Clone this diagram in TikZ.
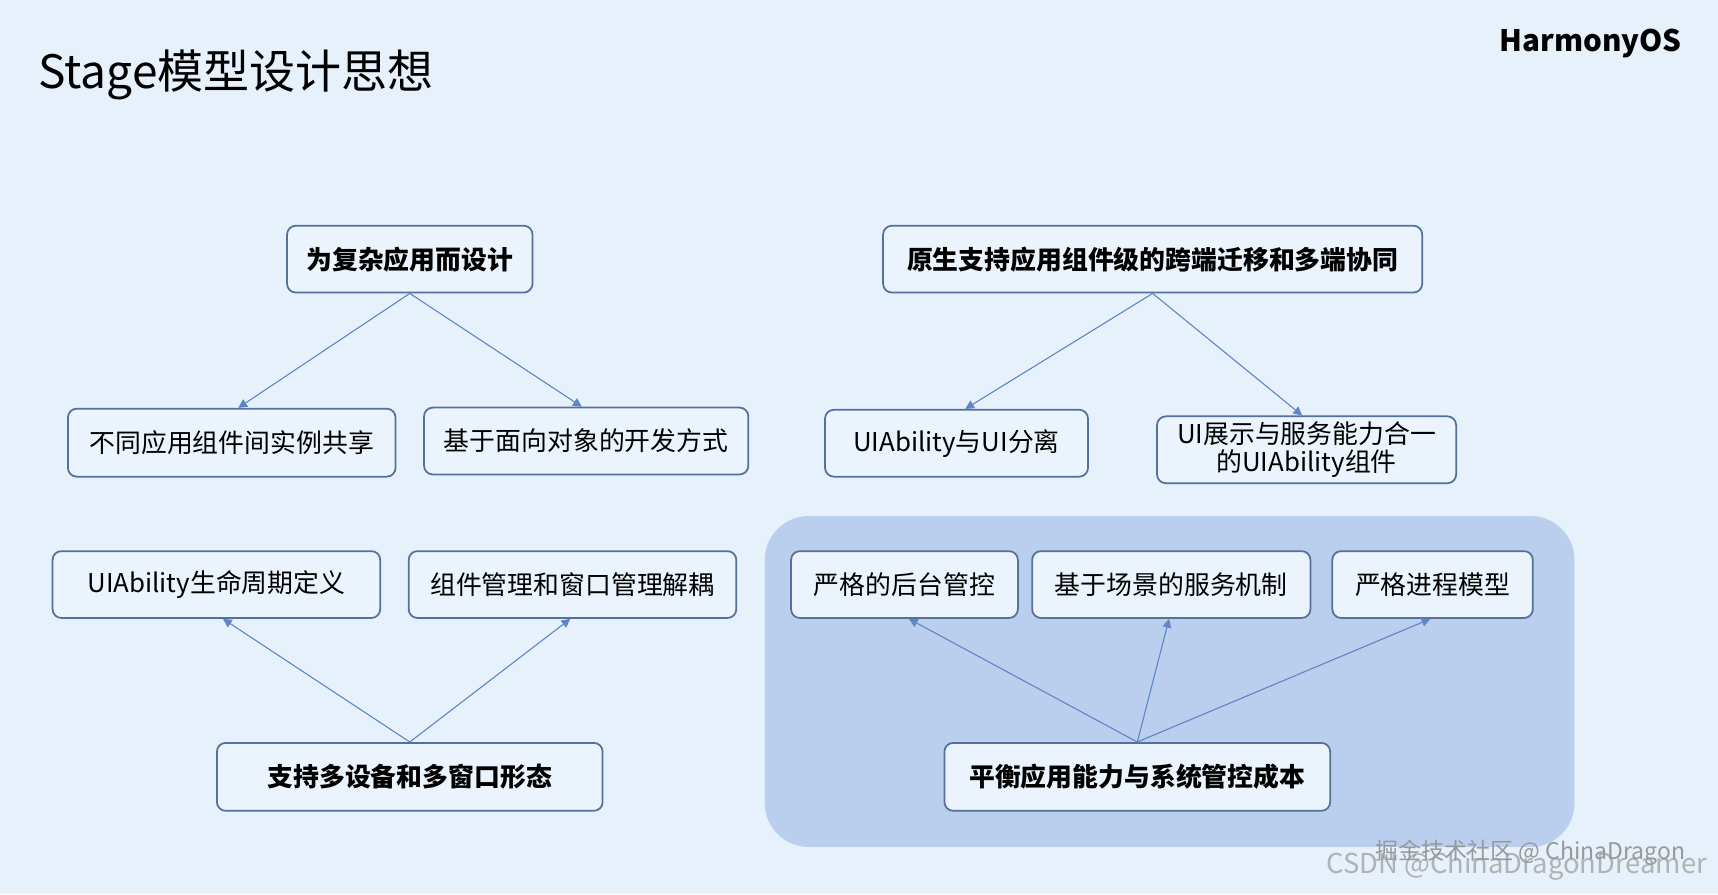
\documentclass[tikz,border=0pt]{standalone}
\usepackage{fontspec}
\setmainfont{Noto Sans CJK SC}
\usetikzlibrary{arrows.meta}
\definecolor{bg}{HTML}{E6F1FC}
\definecolor{boxfill}{HTML}{EBF4FD}
\definecolor{boxline}{HTML}{55709A}
\definecolor{region}{HTML}{BACEEE}
\definecolor{arr}{HTML}{5F85C6}
\tikzset{
 box/.style={draw=boxline,line width=0.8pt,fill=boxfill,rounded corners=4pt,font=\fontsize{11.8}{13}\selectfont,text=black,align=center,inner sep=0pt},
 bbox/.style={box,font=\fontsize{11.8}{13}\selectfont\bfseries},
 link/.style={draw=arr,line width=0.5pt,-{Triangle[length=4pt,width=4pt]}}
}
\begin{document}
\begin{tikzpicture}[x=0.5pt,y=-0.5pt]
\fill[bg] (0,0) rectangle (1568,816);
\useasboundingbox (0,0) rectangle (1568,816);
\node[anchor=west,font=\fontsize{21}{24}\selectfont] (title) at (28,68) {Stage模型设计思想};
\node[anchor=east,font=\fontsize{13.5}{15}\selectfont\bfseries] (logo) at (1542,40) {HarmonyOS};
\fill[region,rounded corners=20pt] (698,471) rectangle (1437,773);
\newcommand\bx[6]{\node[#1,minimum width={(#4-#2)*0.5pt},minimum height={(#5-#3)*0.5pt}] (#6) at ({(#2+#4)/2},{(#3+#5)/2})}
\bx{bbox}{262}{206}{486}{267}{A} {为复杂应用而设计};
\bx{bbox}{806}{206}{1298}{267}{B} {原生支持应用组件级的跨端迁移和多端协同};
\bx{box}{62}{373}{361}{435}{C} {不同应用组件间实例共享};
\bx{box}{387}{372}{683}{433}{D} {基于面向对象的开发方式};
\bx{box}{753}{374}{993}{435}{E} {UIAbility与UI分离};
\bx{box}{1056}{380}{1329}{441}{F} {UI展示与服务能力合一\\的UIAbility组件};
\bx{box}{48}{503}{347}{564}{G} {UIAbility生命周期定义};
\bx{box}{373}{503}{672}{564}{H} {组件管理和窗口管理解耦};
\bx{bbox}{198}{678}{550}{740}{I} {支持多设备和多窗口形态};
\bx{box}{722}{503}{929}{564}{J} {严格的后台管控};
\bx{box}{942}{503}{1196}{564}{K} {基于场景的服务机制};
\bx{box}{1216}{503}{1399}{564}{L} {严格进程模型};
\bx{bbox}{862}{678}{1214}{740}{M} {平衡应用能力与系统管控成本};
\draw[link] (A.south) -- ([xshift=3pt]C.north);
\draw[link] (A.south) -- ([xshift=-2pt]D.north);
\draw[link] (B.south) -- ([xshift=4pt]E.north);
\draw[link] (B.south) -- ([xshift=-2pt]F.north);
\draw[link] (I.north) -- ([xshift=3pt]G.south);
\draw[link] (I.north) -- ([xshift=-1pt]H.south);
\draw[link] (M.north) -- ([xshift=2pt]J.south);
\draw[link] (M.north) -- ([xshift=-1pt]K.south);
\draw[link] (M.north) -- ([xshift=-1pt]L.south);
\node[anchor=east,text=gray!60,font=\fontsize{12.5}{14}\selectfont] (wm1) at (1565,790) {CSDN @ChinaDragonDreamer};
\node[anchor=east,text=gray!80,font=\fontsize{10.5}{12}\selectfont] (wm2) at (1545,778) {掘金技术社区 @ ChinaDragon};
\end{tikzpicture}
\end{document}
